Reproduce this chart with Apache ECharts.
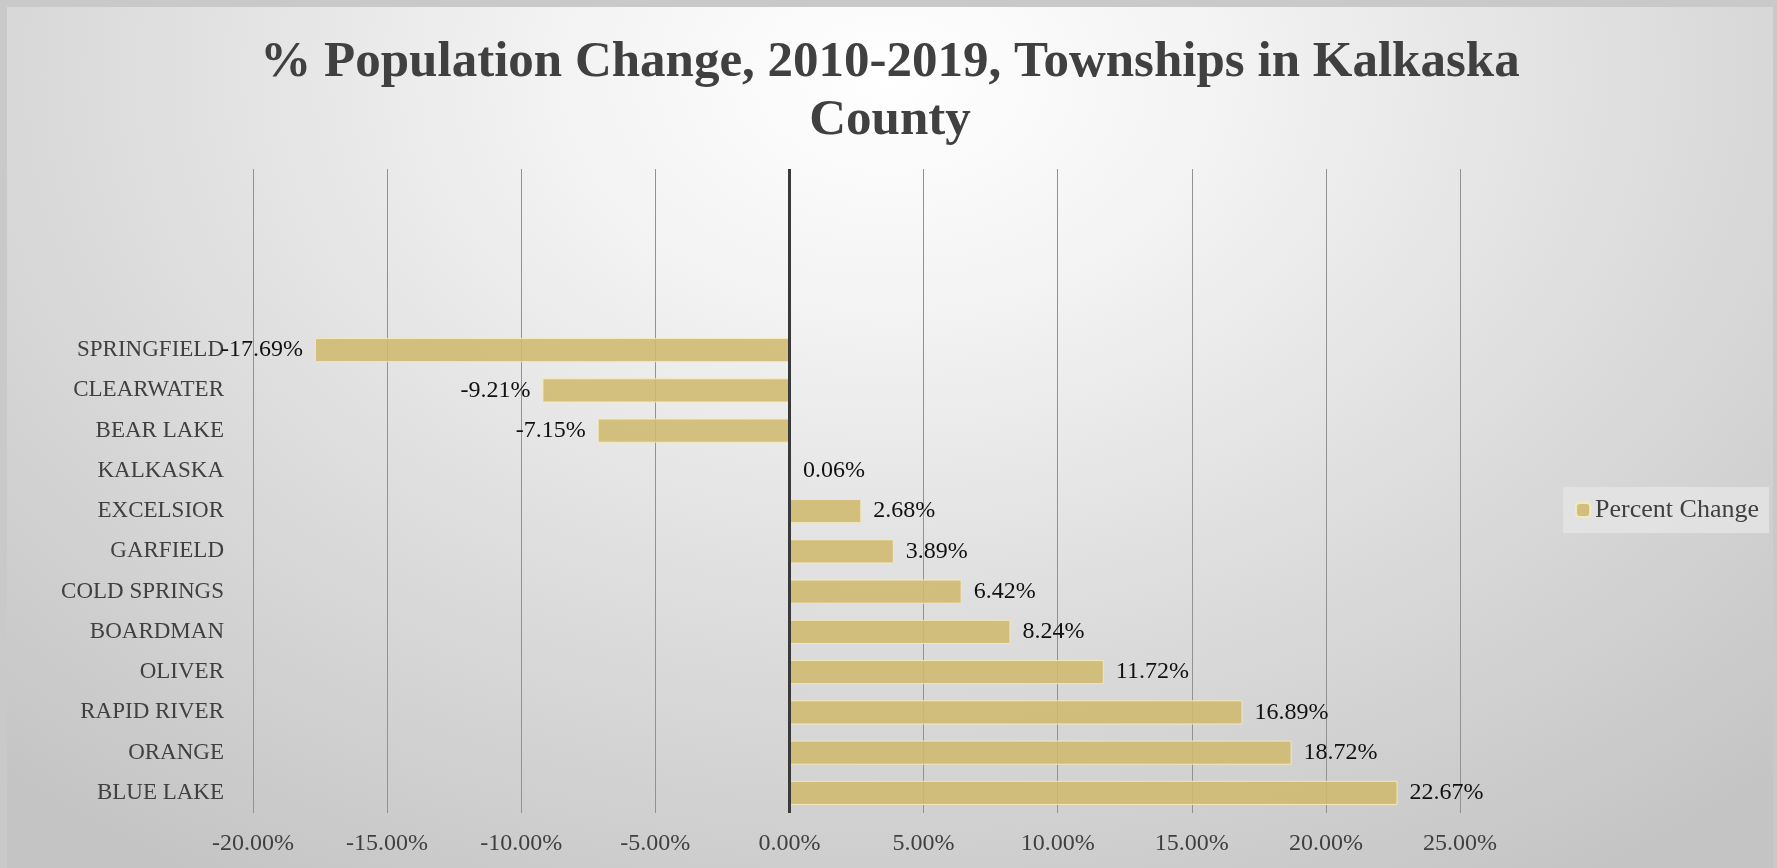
<!DOCTYPE html>
<html>
<head>
<meta charset="utf-8">
<script src="https://cdn.jsdelivr.net/npm/echarts@6/dist/echarts.min.js"></script>
<style>
  html, body { margin:0; padding:0; width:1777px; height:868px; overflow:hidden; }
  #frame { position:absolute; left:0; top:0; width:1777px; height:868px; background:#c9c9c9; }
  #chart { position:absolute; left:7px; top:7px; width:1766px; height:861px;
    background: radial-gradient(ellipse 75% 110% at 50% 8%, #ffffff 0%, #f3f3f3 25%, #dcdcdc 60%, #c4c4c4 100%); }
</style>
</head>
<body>
<div id="frame"></div>
<div id="chart"></div>
<script>
// Categories (top to bottom); four blank slots at the top as in the original
const categories = [" ", "  ", "   ", "    ", "SPRINGFIELD", "CLEARWATER", "BEAR LAKE", "KALKASKA", "EXCELSIOR", "GARFIELD", "COLD SPRINGS", "BOARDMAN", "OLIVER", "RAPID RIVER", "ORANGE", "BLUE LAKE"];
const percentChange = [null, null, null, null, -17.69, -9.21, -7.15, 0.06, 2.68, 3.89, 6.42, 8.24, 11.72, 16.89, 18.72, 22.67];
const seriesName = "Percent Change";
const titleText = "% Population Change, 2010-2019, Townships in Kalkaska\nCounty";
const xMin = -20, xMax = 25, xStep = 5;

const fontFam = "'Liberation Serif', 'DejaVu Serif', serif";
const chart = echarts.init(document.getElementById('chart'), null, {renderer: 'canvas'});

const seriesData = percentChange.map(v => v === null ? null : {
  value: v,
  label: { position: v < 0 ? 'left' : 'right' }
});

chart.setOption({
  backgroundColor: 'transparent',
  animation: false,
  title: {
    text: titleText,
    left: 'center',
    top: 22,
    textStyle: { fontFamily: fontFam, fontWeight: 'bold', fontSize: 51, lineHeight: 58, color: '#404040' }
  },
  legend: {
    data: [seriesName],
    right: 4,
    top: 480,
    orient: 'vertical',
    backgroundColor: 'rgba(228,228,228,0.85)',
    padding: [10, 10, 10, 12],
    itemWidth: 14,
    itemHeight: 14,
    itemGap: 4,
    textStyle: { fontFamily: fontFam, fontSize: 26, color: '#404040' }
  },
  grid: { left: 246, right: 313, top: 162, bottom: 55, containLabel: false },
  xAxis: {
    type: 'value',
    min: xMin, max: xMax, interval: xStep,
    axisLine: { show: false },
    axisTick: { show: false },
    splitLine: { show: true, lineStyle: { color: '#929292', width: 1 } },
    axisLabel: {
      margin: 19,
      fontFamily: fontFam, fontSize: 24, color: '#404040',
      formatter: v => v.toFixed(2) + '%'
    }
  },
  yAxis: {
    type: 'category',
    inverse: true,
    data: categories,
    axisLine: { show: false },
    axisTick: { show: false },
    splitLine: { show: false },
    axisLabel: { margin: 29, fontFamily: fontFam, fontSize: 23, color: '#404040' }
  },
  series: [{
    name: seriesName,
    type: 'bar',
    data: seriesData,
    barCategoryGap: '40%',
    itemStyle: { color: 'rgba(207,186,110,0.88)', borderColor: 'rgba(245,236,190,0.9)', borderWidth: 1 },
    label: {
      show: true,
      distance: 12,
      fontFamily: fontFam, fontSize: 24, color: '#111111',
      formatter: p => p.value.toFixed(2) + '%'
    },
    markLine: {
      silent: true,
      symbol: 'none',
      label: { show: false },
      lineStyle: { color: '#3a3a3a', width: 3, type: 'solid' },
      data: [{ xAxis: 0 }]
    }
  }]
});
</script>
</body>
</html>
